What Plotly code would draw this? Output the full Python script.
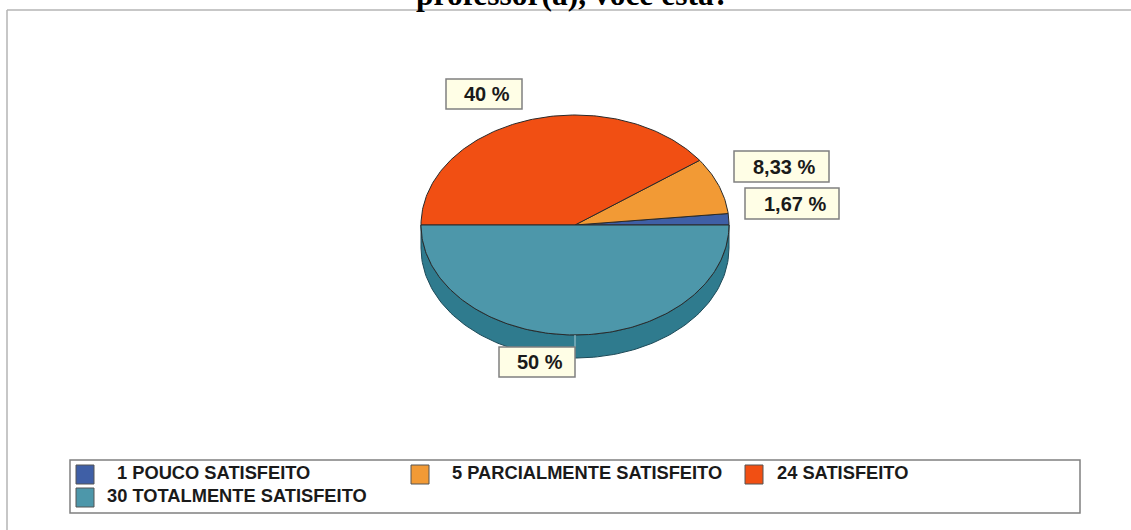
import numpy as np
import plotly.graph_objects as go

# data
categories = ["POUCO SATISFEITO", "PARCIALMENTE SATISFEITO", "SATISFEITO", "TOTALMENTE SATISFEITO"]
counts = [1, 5, 24, 30]
percent_labels = ["1,67 %", "8,33 %", "40 %", "50 %"]
title_text = "professor(a), você está?"

colors = ["#3f5fa6", "#f29a35", "#f14f13", "#4d97aa"]
side_color = "#2f7b8e"
edge_color = "#2a2a2a"

W, H = 1131, 530
cx, cy, rx, ry, depth = 575, 225, 154, 110, 23

# label boxes (x0, y0, x1, y1), same order as categories
label_boxes = [(745, 188, 839, 219), (734, 151, 829, 182), (446, 79, 522, 109), (499, 347, 575, 377)]
# legend swatches and text start
swatches = [(76, 465), (411, 465), (745, 465), (76, 488)]
legend_text_x = [115, 450, 775, 105]


def ellipse(deg, dy=0):
    t = np.radians(deg)
    return cx + rx * np.cos(t), cy + dy - ry * np.sin(t)


fig = go.Figure()

# side of the pie, only the front half shows
t_front = np.linspace(180, 360, 120)
xa, ya = ellipse(t_front)
xb, yb = ellipse(t_front[::-1], depth)
fig.add_trace(go.Scatter(x=np.r_[xa, xb, xa[0]], y=np.r_[ya, yb, ya[0]], mode="lines", fill="toself",
                         fillcolor=side_color, line=dict(color="#1d4a58", width=1), hoverinfo="skip"))

# top slices, counter clockwise from 3 o'clock
total = sum(counts)
start = 0.0
for name, count, pct, col in zip(categories, counts, percent_labels, colors):
    end = start + 360.0 * count / total
    t = np.linspace(start, end, max(int(end - start), 2) + 1)
    ex, ey = ellipse(t)
    fig.add_trace(go.Scatter(x=np.r_[cx, ex, cx], y=np.r_[cy, ey, cy], mode="lines", fill="toself",
                             fillcolor=col, line=dict(color=edge_color, width=1),
                             name=name, text=f"{count} {name}: {pct}", hoverinfo="text", hoveron="fills"))
    start = end

shapes = [
    # picture frame
    dict(type="line", x0=7, x1=7, y0=10, y1=H, line=dict(color="#b5b5b5", width=1.5)),
    dict(type="line", x0=7, x1=W, y0=10, y1=10, line=dict(color="#b5b5b5", width=1.5)),
    # leader of the 50 % label
    dict(type="line", x0=cx, x1=cx, y0=cy + ry, y1=347, line=dict(color="#a9cdd6", width=1)),
    # legend frame
    dict(type="rect", x0=70, x1=1080, y0=460, y1=513, fillcolor="white", line=dict(color="#808080", width=1.5)),
]
annotations = [
    dict(text=f"<b>{title_text}</b>", x=572.5, y=14, xref="x", yref="y", xanchor="center", yanchor="bottom",
         showarrow=False, font=dict(family="Liberation Serif", size=31.5, color="black")),
]

for box, pct in zip(label_boxes, percent_labels):
    shapes.append(dict(type="rect", x0=box[0], y0=box[1], x1=box[2], y1=box[3], fillcolor="#fffee6",
                       line=dict(color="#808080", width=1.5)))
    annotations.append(dict(text=f"<b>{pct}</b>", x=(box[0] + box[2]) / 2 + 2.5, y=(box[1] + box[3]) / 2, xref="x", yref="y",
                            showarrow=False, font=dict(family="Liberation Sans", size=20, color="#1a1a1a")))

for name, count, col, sw, tx in zip(categories, counts, colors, swatches, legend_text_x):
    shapes.append(dict(type="rect", x0=sw[0], y0=sw[1], x1=sw[0] + 18, y1=sw[1] + 19, fillcolor=col,
                       line=dict(color="#555555", width=1)))
    annotations.append(dict(text=f"<b>{count} {name}</b>", x=tx, y=sw[1] + 7, xref="x", yref="y", xanchor="left",
                            showarrow=False, font=dict(family="Liberation Sans", size=18.3, color="#1a1a1a")))

fig.update_layout(
    width=W, height=H, margin=dict(l=0, r=0, t=0, b=0),
    paper_bgcolor="white", plot_bgcolor="white", showlegend=False,
    xaxis=dict(range=[0, W], visible=False, fixedrange=True),
    yaxis=dict(range=[H, 0], visible=False, fixedrange=True),
    shapes=shapes, annotations=annotations,
)
# the page's default body margin would push the figure 8px off
fig.write_html("out.html", config=dict(displayModeBar=False),
               post_script="document.body.style.margin='0';document.body.style.overflow='hidden';")
